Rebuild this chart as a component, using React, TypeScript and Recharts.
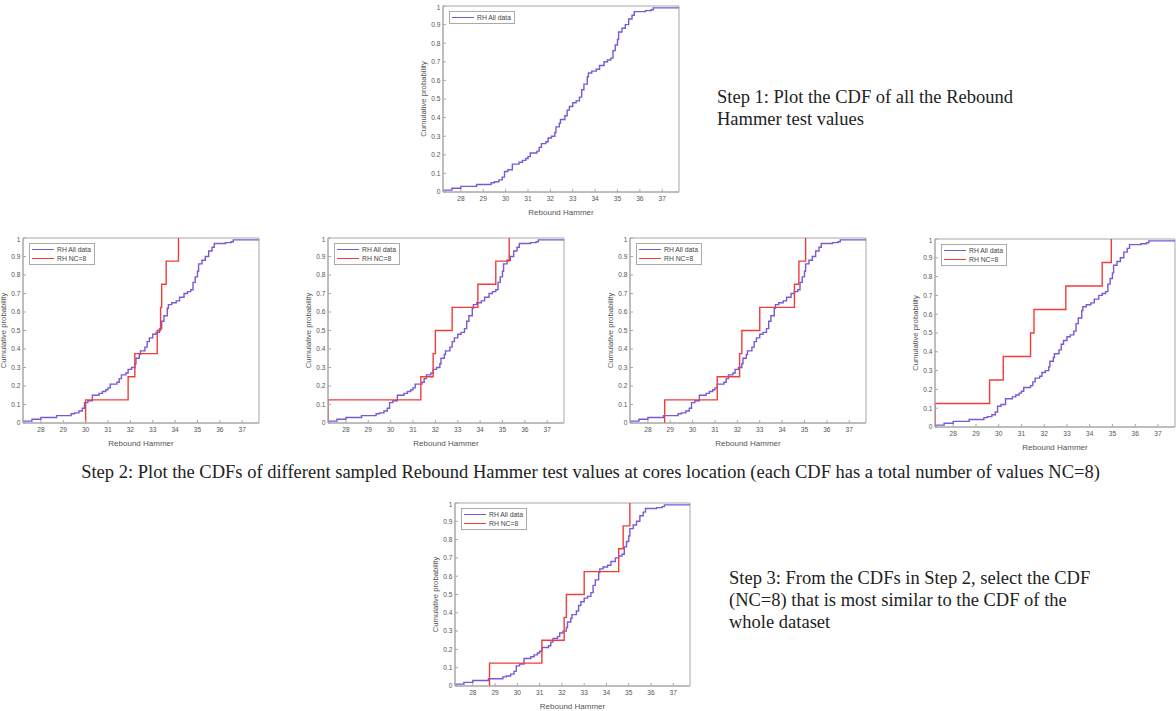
import { LineChart, Line, XAxis, YAxis, Legend, ReferenceArea } from "recharts";

// whole dataset empirical CDF (step positions and cumulative probability)
const allX = [27.2, 27.6, 28.0, 28.7, 29.35, 29.5, 29.7, 29.85, 29.95, 30.1, 30.3, 30.6, 30.75, 30.9, 31.0, 31.1, 31.4, 31.5, 31.6, 31.8, 31.9, 32.05, 32.2, 32.25, 32.4, 32.45, 32.65, 32.75, 32.85, 33.0, 33.15, 33.3, 33.4, 33.5, 33.65, 33.7, 33.85, 34.05, 34.2, 34.4, 34.55, 34.7, 34.8, 34.9, 35.0, 35.05, 35.2, 35.35, 35.5, 35.65, 35.75, 36.25, 36.5, 36.6, 37.75];
const allP = [0.01, 0.02, 0.03, 0.04, 0.05, 0.055, 0.065, 0.08, 0.11, 0.12, 0.15, 0.16, 0.17, 0.18, 0.19, 0.21, 0.22, 0.24, 0.26, 0.27, 0.29, 0.3, 0.32, 0.35, 0.37, 0.39, 0.41, 0.44, 0.46, 0.48, 0.49, 0.51, 0.55, 0.58, 0.62, 0.64, 0.65, 0.66, 0.68, 0.7, 0.71, 0.72, 0.76, 0.79, 0.82, 0.86, 0.88, 0.9, 0.93, 0.95, 0.97, 0.975, 0.98, 0.99, 0.99];

// sampled Rebound Hammer values at cores (NC=8)
const sampleA = [30.0, 31.9, 32.2, 33.2, 33.35, 33.4, 33.6, 34.15];
const sampleB = [27.2, 31.35, 31.9, 32.0, 32.75, 33.9, 34.7, 35.3];
const sampleC = [28.75, 31.1, 32.1, 32.2, 33.0, 34.55, 34.75, 35.05];
const sampleD = [27.2, 29.6, 30.2, 31.4, 31.55, 32.95, 34.55, 34.95];

const xTicks = [28, 29, 30, 31, 32, 33, 34, 35, 36, 37];
const yTicks = [0, 0.1, 0.2, 0.3, 0.4, 0.5, 0.6, 0.7, 0.8, 0.9, 1];

const allData = allX.map((x, i) => ({ x, y: allP[i] }));

function ecdf(vals: number[]) {
  const s = [...vals].sort((a, b) => a - b);
  const pts = [{ x: s[0], y: 0 }];
  s.forEach((v, i) => pts.push({ x: v, y: (i + 1) / s.length }));
  return pts;
}

const PURPLE = "#7a58d6";
const RED = "#f23c3c";
const AXIS = "#a8a8a8";
const FONT = "'Liberation Sans', Arial, sans-serif";
const tickStyle = { fontSize: 6.6, fill: "#555", fontFamily: FONT };

const YLabel = (props: any) => {
  const vb = props.viewBox || { x: 0, y: 0, width: 0, height: 0 };
  const cx = vb.x + 14;
  const cy = vb.y + vb.height / 2;
  return (
    <text x={cx} y={cy} transform={`rotate(-90 ${cx} ${cy})`} textAnchor="middle" dominantBaseline="central" fontSize={7.7} fill="#555" fontFamily={FONT}>
      Cumulative probability
    </text>
  );
};

const LegendBox = ({ withSample }: { withSample: boolean }) => (
  <div style={{ border: "1px solid #aaa", background: "#fff", padding: "1px 3px 1px 2px", fontFamily: FONT, fontSize: 6.8, color: "#444", lineHeight: "9px" }}>
    <div style={{ display: "flex", alignItems: "center" }}>
      <span style={{ display: "inline-block", width: 22, height: 0, borderTop: `1.5px solid ${PURPLE}`, marginRight: 3 }} />
      RH All data
    </div>
    {withSample && (
      <div style={{ display: "flex", alignItems: "center" }}>
        <span style={{ display: "inline-block", width: 22, height: 0, borderTop: `1.5px solid ${RED}`, marginRight: 3 }} />
        RH NC=8
      </div>
    )}
  </div>
);

interface CdfProps {
  bl: number;
  bt: number;
  bw: number;
  bh: number;
  sample?: number[];
}

function CdfChart({ bl, bt, bw, bh, sample }: CdfProps) {
  const YW = 34;
  const XH = 28;
  return (
    <div style={{ position: "absolute", left: bl - YW, top: bt - 2 }}>
      <LineChart width={bw + YW + 2} height={bh + 2 + XH} margin={{ top: 2, right: 2, bottom: 0, left: 0 }}>
        <XAxis type="number" dataKey="x" domain={[27.2, 37.75]} ticks={xTicks} allowDataOverflow
          height={XH} tickSize={-3} tickMargin={7} stroke={AXIS} tick={tickStyle}
          label={{ value: "Rebound Hammer", position: "insideBottom", offset: 5, fontSize: 8, fill: "#555", fontFamily: FONT }} />
        <YAxis type="number" domain={[0, 1]} ticks={yTicks} allowDataOverflow width={YW}
          tickSize={-3} tickMargin={5.5} stroke={AXIS} tick={tickStyle} label={<YLabel />} />
        <ReferenceArea x1={27.2} x2={37.75} y1={0} y2={1} fill="none" fillOpacity={0} stroke={AXIS} strokeWidth={1} ifOverflow="visible" />
        <Legend layout="vertical" align="center" verticalAlign="middle"
          wrapperStyle={{ left: YW + 6, top: 7, width: "auto" }}
          content={() => <LegendBox withSample={!!sample} />} />
        <Line data={allData} dataKey="y" type="stepAfter" stroke={PURPLE} strokeWidth={1.4} dot={false} isAnimationActive={false} />
        {sample && (
          <Line data={ecdf(sample)} dataKey="y" type="stepAfter" stroke={RED} strokeWidth={1.4} dot={false} isAnimationActive={false} />
        )}
      </LineChart>
    </div>
  );
}

const textStyle = { position: "absolute" as const, fontFamily: "'Liberation Serif', 'Times New Roman', serif", fontSize: 18.5, color: "#222", lineHeight: "22px", whiteSpace: "nowrap" as const };

export default function App() {
  return (
    <div style={{ position: "absolute", left: 0, top: 0, width: 1176, height: 711, background: "#fff", overflow: "hidden" }}>
      <CdfChart bl={443} bt={6} bw={236} bh={186} />
      <div style={{ ...textStyle, left: 717, top: 86 }}>
        Step 1: Plot the CDF of all the Rebound<br />Hammer test values
      </div>

      <CdfChart bl={23} bt={238} bw={236} bh={185} sample={sampleA} />
      <CdfChart bl={328} bt={238} bw={236} bh={185} sample={sampleB} />
      <CdfChart bl={630} bt={238} bw={236} bh={185} sample={sampleC} />
      <CdfChart bl={935} bt={239} bw={240} bh={188} sample={sampleD} />
      <div style={{ ...textStyle, left: 0, width: 1181, textAlign: "center", top: 461 }}>
        Step 2: Plot the CDFs of different sampled Rebound Hammer test values at cores location (each CDF has a total number of values NC=8)
      </div>

      <CdfChart bl={455} bt={503} bw={235} bh={183} sample={sampleC} />
      <div style={{ ...textStyle, left: 729, top: 567 }}>
        Step 3: From the CDFs in Step 2, select the CDF<br />(NC=8) that is most similar to the CDF of the<br />whole dataset
      </div>
    </div>
  );
}
